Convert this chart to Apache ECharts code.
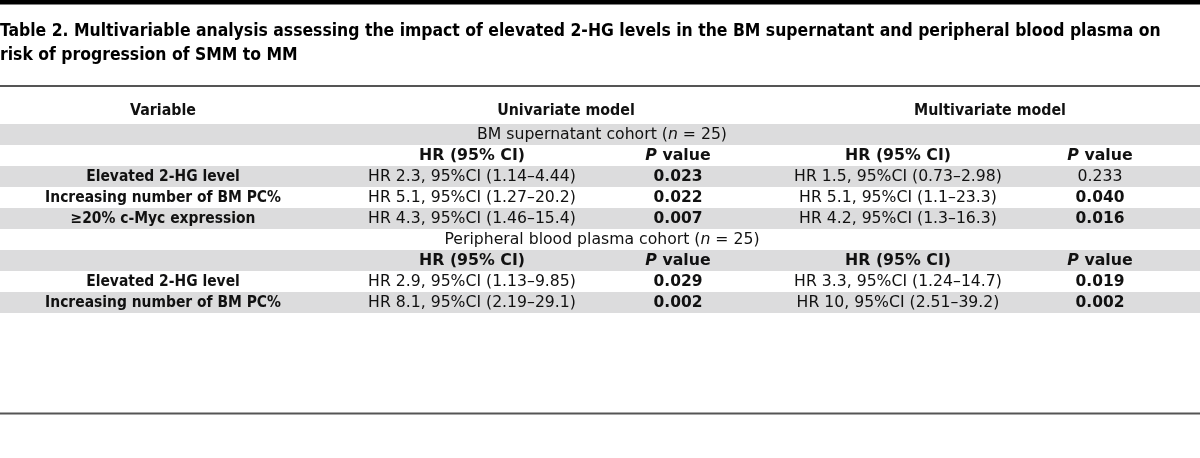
<!DOCTYPE html>
<html><head><meta charset="utf-8">
<script src="https://cdn.jsdelivr.net/npm/echarts@6/dist/echarts.min.js"></script>
<style>html,body{margin:0;padding:0;background:#fff}#c{width:1200px;height:458px}</style>
</head><body><div id="c"></div>
<script>
// ---------- data ----------
const titleLines = [
  'Table 2. Multivariable analysis assessing the impact of elevated 2-HG levels in the BM supernatant and peripheral blood plasma on',
  'risk of progression of SMM to MM'
];
const topHeaders = ['Variable', 'Univariate model', 'Multivariate model'];
const subHeaders = ['HR (95% CI)', 'P value', 'HR (95% CI)', 'P value'];
const cohortNames = ['BM supernatant cohort', 'Peripheral blood plasma cohort'];
const cohortN = [25, 25];

const bmVariables = ['Elevated 2-HG level', 'Increasing number of BM PC%', '\u226520% c-Myc expression'];
const bmUniHR = [2.3, 5.1, 4.3];
const bmUniLo = [1.14, 1.27, 1.46];
const bmUniHi = [4.44, 20.2, 15.4];
const bmUniP = [0.023, 0.022, 0.007];
const bmMultiHR = [1.5, 5.1, 4.2];
const bmMultiLo = [0.73, 1.1, 1.3];
const bmMultiHi = [2.98, 23.3, 16.3];
const bmMultiP = [0.233, 0.040, 0.016];

const pbVariables = ['Elevated 2-HG level', 'Increasing number of BM PC%'];
const pbUniHR = [2.9, 8.1];
const pbUniLo = [1.13, 2.19];
const pbUniHi = [9.85, 29.1];
const pbUniP = [0.029, 0.002];
const pbMultiHR = [3.3, 10];
const pbMultiLo = [1.24, 2.51];
const pbMultiHi = [14.7, 39.2];
const pbMultiP = [0.019, 0.002];

// ---------- build rows ----------
const fmtHR = (h, lo, hi) => 'HR ' + h + ', 95%CI (' + lo + '\u2013' + hi + ')';
const rows = [{ type: 'head' }];
function addCohort(ci, vars, uH, uL, uU, uP, mH, mL, mU, mP) {
  rows.push({ type: 'cohort', name: cohortNames[ci], n: cohortN[ci] });
  rows.push({ type: 'sub' });
  vars.forEach((v, k) => rows.push({
    type: 'var', name: v,
    uni: fmtHR(uH[k], uL[k], uU[k]), uniP: uP[k],
    multi: fmtHR(mH[k], mL[k], mU[k]), multiP: mP[k]
  }));
}
addCohort(0, bmVariables, bmUniHR, bmUniLo, bmUniHi, bmUniP, bmMultiHR, bmMultiLo, bmMultiHi, bmMultiP);
addCohort(1, pbVariables, pbUniHR, pbUniLo, pbUniHi, pbUniP, pbMultiHR, pbMultiLo, pbMultiHi, pbMultiP);

// ---------- styling ----------
const COND = '"DejaVu Sans Condensed", "DejaVu Sans", sans-serif';
const WIDE = '"DejaVu Sans", sans-serif';
const GRAY = '#dcdcdd';
const INK = '#111';
const ctx = document.createElement('canvas').getContext('2d');
function fit(text, weight, family, target) {
  ctx.font = weight + ' 100px ' + family;
  return 100 * target / ctx.measureText(text).width;
}
const titleSize = fit(titleLines[0], 'bold', COND, 1162);
const regSize = fit(fmtHR(bmUniHR[0], bmUniLo[0], bmUniHi[0]), 'normal', WIDE, 208);
const labelSize = fit(bmVariables[1], 'bold', COND, 236);
const topSize = fit(topHeaders[2], 'bold', COND, 152);
const hrHeadSize = fit(subHeaders[0], 'bold', WIDE, 106);
const pSize = fit('0.023', 'bold', WIDE, 49);

const REG = { family: WIDE, weight: 'normal', size: regSize };
const LAB = { family: COND, weight: 'bold', size: labelSize };
const TOP = { family: COND, weight: 'bold', size: topSize };
const HRH = { family: WIDE, weight: 'bold', size: hrHeadSize };
const PB = { family: WIDE, weight: 'bold', size: pSize };

const colX = [163, 472, 678, 898, 1100];
const spanX = [163, 566, 990];
const cohortX = 602;

const chart = echarts.init(document.getElementById('c'), null, { renderer: 'canvas' });

function txt(x, y, text, f, rich) {
  const s = {
    text: text, fill: INK, fontFamily: f.family, fontSize: f.size,
    fontWeight: f.weight, align: 'center', verticalAlign: 'middle'
  };
  if (rich) s.rich = rich;
  return { type: 'text', x: x, y: y, style: s };
}
const pRich = {
  pi: { fontStyle: 'italic', fontWeight: 'bold', fontFamily: WIDE, fontSize: hrHeadSize, fill: INK },
  pv: { fontWeight: 'bold', fontFamily: WIDE, fontSize: hrHeadSize, fill: INK }
};
const nRich = { ni: { fontStyle: 'italic', fontFamily: WIDE, fontSize: regSize, fill: INK } };

const option = {
  animation: false,
  title: {
    text: titleLines.join('\n'), left: 0, top: 19, padding: 0,
    textStyle: { fontFamily: COND, fontWeight: 'bold', fontSize: titleSize, lineHeight: 24, color: '#000' }
  },
  grid: { left: 0, right: 0, top: 103, height: 210 },
  xAxis: { type: 'value', min: 0, max: 1200, show: false },
  yAxis: { type: 'category', inverse: true, show: false, data: rows.map((r, i) => 'r' + i) },
  graphic: [
    { type: 'rect', shape: { x: 0, y: 0, width: 1200, height: 4.5 }, style: { fill: '#000' } },
    { type: 'rect', shape: { x: 0, y: 85, width: 1200, height: 2 }, style: { fill: '#555' } },
    { type: 'rect', shape: { x: 0, y: 412.5, width: 1200, height: 2 }, style: { fill: '#555' } }
  ],
  series: [{
    type: 'custom',
    coordinateSystem: 'cartesian2d',
    data: rows.map((r, i) => [0, i]),
    renderItem: function (params, api) {
      const i = api.value(1);
      const r = rows[i];
      const cy = api.coord([0, i])[1];
      const h = api.size([0, 1])[1];
      const cs = params.coordSys;
      const X = v => api.coord([v, i])[0];
      const ch = [];
      if (i % 2 === 1) {
        ch.push({ type: 'rect', shape: { x: cs.x, y: cy - h / 2, width: cs.width, height: h }, style: { fill: GRAY } });
      }
      if (r.type === 'head') {
        topHeaders.forEach((t, k) => ch.push(txt(X(spanX[k]), cy - 2.5, t, TOP)));
      } else if (r.type === 'cohort') {
        ch.push(txt(X(cohortX), cy, r.name + ' ({ni|n} = ' + r.n + ')', REG, nRich));
      } else if (r.type === 'sub') {
        subHeaders.forEach((t, k) => {
          if (t.indexOf('P ') === 0) ch.push(txt(X(colX[k + 1]), cy, '{pi|P}{pv| value}', HRH, pRich));
          else ch.push(txt(X(colX[k + 1]), cy, t, HRH));
        });
      } else {
        ch.push(txt(X(colX[0]), cy, r.name, LAB));
        ch.push(txt(X(colX[1]), cy, r.uni, REG));
        ch.push(txt(X(colX[2]), cy, r.uniP.toFixed(3), r.uniP < 0.05 ? PB : REG));
        ch.push(txt(X(colX[3]), cy, r.multi, REG));
        ch.push(txt(X(colX[4]), cy, r.multiP.toFixed(3), r.multiP < 0.05 ? PB : REG));
      }
      return { type: 'group', children: ch };
    }
  }]
};
chart.setOption(option);
</script>
</body></html>
